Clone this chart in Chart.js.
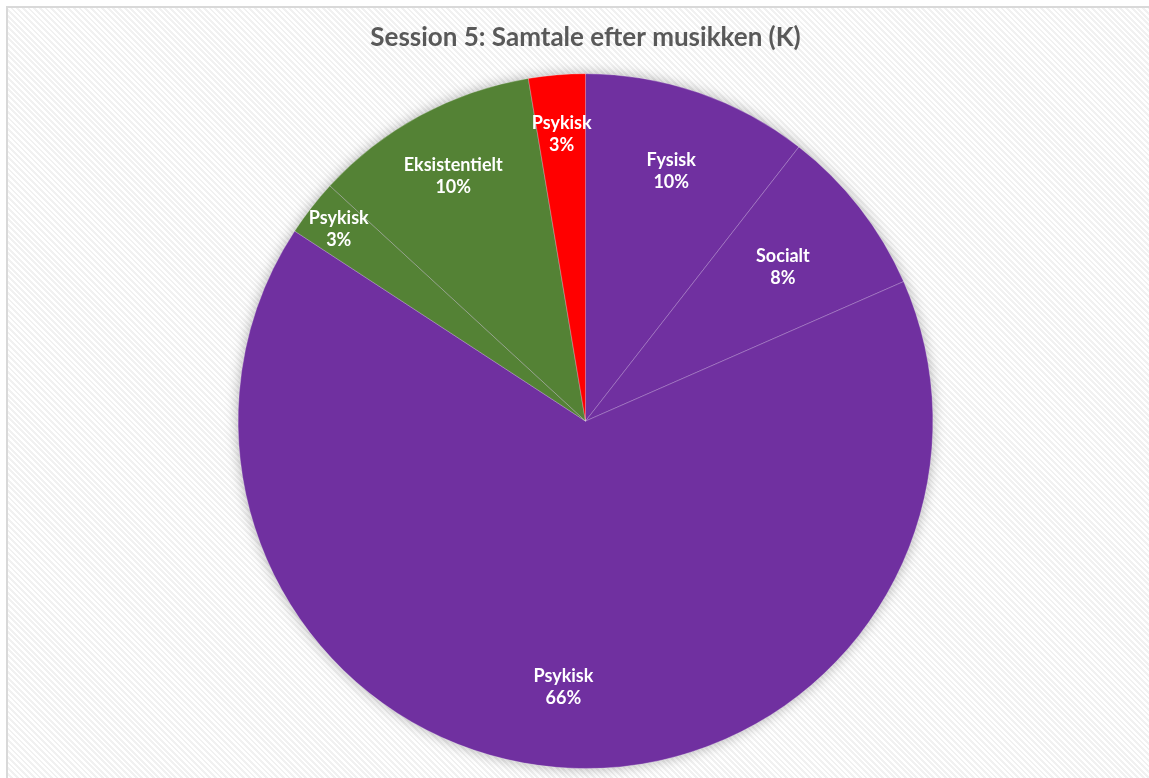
<!DOCTYPE html>
<html>
<head>
<meta charset="utf-8">
<script src="https://cdn.jsdelivr.net/npm/chart.js@4/dist/chart.umd.min.js"></script>
<style>
  html, body { margin: 0; padding: 0; background: #fff; overflow: hidden; width: 1149px; height: 778px; }
  #frame {
    position: absolute; left: 6px; top: 6px; right: 0; bottom: 0;
    border-left: 2px solid #d9d9d9;
    border-top: 2px solid #d9d9d9;
    background: repeating-linear-gradient(45deg, #ffffff 0px, #ffffff 2px, #f1f1f1 2px, #f1f1f1 4px);
  }
  #wrap { position: absolute; left: 0px; top: 0px; width: 1155px; height: 770px; }
</style>
</head>
<body>
<div id="frame"><div id="wrap"><canvas id="pie"></canvas></div></div>
<script>
// slices clockwise from 12 o'clock
const categories = ['Fysisk', 'Socialt', 'Psykisk', 'Psykisk', 'Eksistentielt', 'Psykisk'];
const counts = [4, 3, 25, 1, 4, 1];
const percentLabels = ['10%', '8%', '66%', '3%', '10%', '3%'];
const sliceColors = ['#7030A0', '#7030A0', '#7030A0', '#548235', '#548235', '#FF0000'];

// how far out (fraction of radius) each label sits
const labelRadius = [0.76, 0.72, 0.77, 0.9, 0.8, 0.83];

const pieShadow = {
  id: 'pieShadow',
  beforeDatasetsDraw(chart) {
    const arc = chart.getDatasetMeta(0).data[0];
    if (!arc) return;
    const ctx = chart.ctx;
    ctx.save();
    ctx.shadowColor = 'rgba(0,0,0,0.35)';
    ctx.shadowBlur = 14;
    ctx.fillStyle = '#7030A0';
    ctx.beginPath();
    ctx.arc(arc.x, arc.y, arc.outerRadius - 1, 0, Math.PI * 2);
    ctx.fill();
    ctx.restore();
  }
};

const sliceLabels = {
  id: 'sliceLabels',
  afterDatasetsDraw(chart) {
    const ctx = chart.ctx;
    ctx.save();
    ctx.fillStyle = '#ffffff';
    ctx.font = 'bold 18px Lato';
    ctx.textAlign = 'center';
    ctx.textBaseline = 'middle';
    chart.getDatasetMeta(0).data.forEach((arc, i) => {
      const mid = (arc.startAngle + arc.endAngle) / 2;
      const r = arc.outerRadius * labelRadius[i];
      const x = arc.x + Math.cos(mid) * r;
      const y = arc.y + Math.sin(mid) * r;
      ctx.fillText(categories[i], x, y - 11);
      ctx.fillText(percentLabels[i], x, y + 11);
    });
    ctx.restore();
  }
};

new Chart(document.getElementById('pie'), {
  type: 'pie',
  data: {
    labels: categories,
    datasets: [{
      data: counts,
      backgroundColor: sliceColors,
      borderColor: 'rgba(255,255,255,0.25)',
      borderWidth: 1
    }]
  },
  options: {
    responsive: true,
    maintainAspectRatio: false,
    animation: false,
    layout: { padding: { bottom: 9 } },
    plugins: {
      legend: { display: false },
      tooltip: { enabled: false },
      title: {
        display: true,
        text: 'Session 5: Samtale efter musikken (K)',
        color: '#595959',
        font: { family: 'Lato', size: 26, weight: 'bold' },
        padding: { top: 14, bottom: 20 }
      }
    }
  },
  plugins: [pieShadow, sliceLabels]
});
</script>
</body>
</html>
